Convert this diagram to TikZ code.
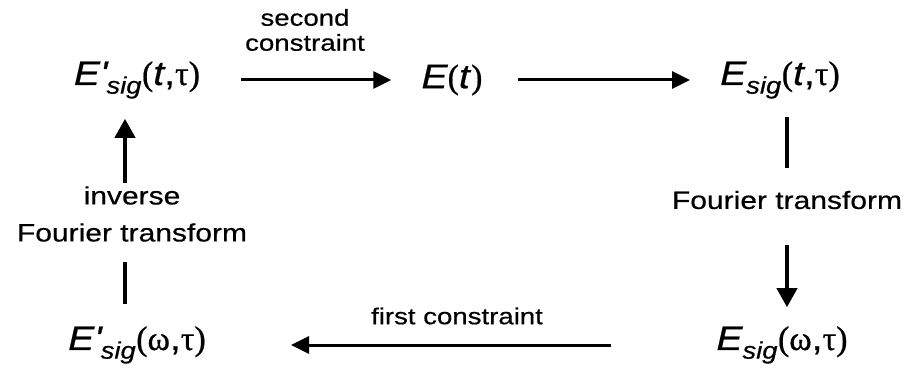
\documentclass[tikz,border=0pt]{standalone}
\usepackage{fontspec}
\setmainfont{Liberation Sans}
\newfontfamily\lblfont{Liberation Sans}[FakeStretch=1.2,FakeBold=0.5]
\newfontfamily\mathfont{Liberation Sans}[FakeStretch=1.15,FakeBold=0.6]
\newfontfamily\grkfont{Liberation Serif}[FakeBold=0.6]
\usetikzlibrary{arrows.meta}
\newcommand{\Es}{{\itshape E}}
\newcommand{\Ep}{{\itshape E\textquotesingle}}
\newcommand{\sig}{\textsubscript{\itshape sig}}
\newcommand{\gk}[1]{{\grkfont #1}}
\begin{document}
\begin{tikzpicture}[x=1pt,y=-1pt,
  mathlbl/.style={inner sep=0pt, font=\mathfont\fontsize{34}{36}\selectfont},
  txtlbl/.style={inner sep=0pt, align=center, font=\lblfont\fontsize{25}{37}\selectfont},
  smalllbl/.style={inner sep=0pt, align=center, font=\lblfont\fontsize{23}{25}\selectfont},
  conn/.style={line width=3pt},
  vconn/.style={line width=4pt},
  arr/.style={conn, -{Triangle[length=18pt,width=17pt]}},
  varr/.style={vconn, -{Triangle[length=19pt,width=20pt]}}]
\useasboundingbox (0,0) rectangle (917,374);
\node[mathlbl] (A) at (137,80) {\Ep\sig\gk{(}\textit{t},\gk{τ)}};
\node[mathlbl] (B) at (452,80) {\Es\gk{(}\textit{t}\gk{)}};
\node[mathlbl] (C) at (780,80) {\Es\sig\gk{(}\textit{t},\gk{τ)}};
\node[mathlbl] (D) at (782,345) {\Es\sig\gk{(ω},\gk{τ)}};
\node[mathlbl] (F) at (137,345) {\Ep\sig\gk{(ω},\gk{τ)}};
\node[smalllbl] (L1) at (305,30) {second\\constraint};
\node[txtlbl] (L2) at (787,200) {Fourier transform};
\node[smalllbl] (L3) at (457,316) {first constraint};
\node[txtlbl] (L4) at (132,214) {inverse\\Fourier transform};
\draw[arr, shorten <=41pt, shorten >=30pt] (A) -- (B);
\draw[arr, shorten <=35pt, shorten >=30pt] (B) -- (C);
\draw[vconn, shorten <=18pt, shorten >=23pt] ([xshift=7pt]C.south) -- ([xshift=0pt]L2.north);
\draw[varr, shorten <=36pt, shorten >=19pt] (L2.south) -- ([xshift=5pt]D.north);
\draw[arr, shorten <=105pt, shorten >=85pt] (D) -- (F);
\draw[vconn, shorten <=22pt, shorten >=20pt] ([xshift=-12pt]F.north) -- ([xshift=-7pt]L4.south);
\draw[varr, shorten <=3pt, shorten >=20pt] ([xshift=-7pt]L4.north) -- ([xshift=-12pt]A.south);
\end{tikzpicture}
\end{document}
